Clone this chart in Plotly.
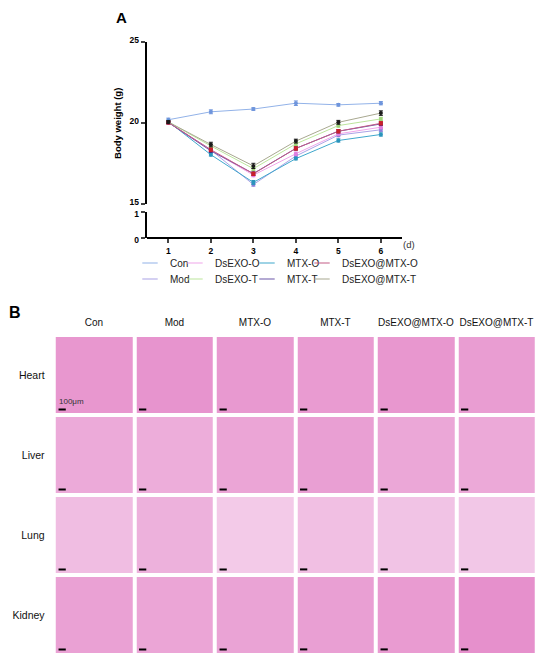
import numpy as np
import plotly.graph_objects as go

# Körpergewicht (g) pro Tag
days = [1, 2, 3, 4, 5, 6]
weight_con = [20.22, 20.71, 20.88, 21.24, 21.14, 21.24]
weight_mod = [20.05, 18.35, 16.22, 17.98, 19.27, 19.60]
weight_dsexo_o = [20.05, 18.33, 16.80, 18.12, 19.35, 19.76]
weight_dsexo_t = [20.08, 18.60, 17.20, 18.73, 19.86, 20.27]
weight_mtx_o = [20.10, 18.06, 16.35, 17.82, 18.94, 19.31]
weight_mtx_t = [20.05, 18.30, 16.90, 18.45, 19.51, 19.96]
weight_ds_mtx_o = [20.05, 18.37, 16.88, 18.45, 19.51, 20.00]
weight_ds_mtx_t = [20.08, 18.69, 17.37, 18.90, 20.06, 20.63]
err_con = [0.10, 0.12, 0.08, 0.14, 0.08, 0.10]
err_mod = [0.08, 0.10, 0.10, 0.10, 0.10, 0.10]
err_dsexo_o = [0.08, 0.10, 0.10, 0.10, 0.10, 0.10]
err_dsexo_t = [0.08, 0.10, 0.12, 0.10, 0.10, 0.10]
err_mtx_o = [0.08, 0.08, 0.12, 0.08, 0.10, 0.10]
err_mtx_t = [0.08, 0.10, 0.10, 0.10, 0.10, 0.10]
err_ds_mtx_o = [0.08, 0.10, 0.10, 0.10, 0.10, 0.10]
err_ds_mtx_t = [0.08, 0.14, 0.16, 0.12, 0.12, 0.14]

# Histologie-Panel: Spalten, Zeilen, Färbeintensität (geschätzt)
hist_cols = ["Con", "Mod", "MTX-O", "MTX-T", "DsEXO@MTX-O", "DsEXO@MTX-T"]
hist_rows = ["Heart", "Liver", "Lung", "Kidney"]
stain_heart = [0.74, 0.76, 0.72, 0.70, 0.74, 0.68]
stain_liver = [0.55, 0.52, 0.60, 0.66, 0.58, 0.56]
stain_lung = [0.36, 0.48, 0.24, 0.34, 0.30, 0.26]
stain_kidney = [0.64, 0.60, 0.62, 0.66, 0.70, 0.80]

FONT = "Arial, Liberation Sans, sans-serif"
# Seite hat 8px Body-Rand -> Figur etwas kleiner, Positionen in Bildpixeln
OFF = 8
W, H = 534, 651

def px_x(p):
    return (p - OFF) / W

def px_y(p):
    return 1 - (p - OFF) / H

fig = go.Figure()

# Name, Werte, Fehler, Linienfarbe, Markerfarbe, Symbol, Legendenposition (Text-x, Text-y in px)
series = [
    ("Con", weight_con, err_con, "#92b2e8", "#6f95dc", "circle", 170, 263),
    ("Mod", weight_mod, err_mod, "#aaa2e6", "#8a7fd8", "circle", 170, 279),
    ("DsEXO-O", weight_dsexo_o, err_dsexo_o, "#f0a6ea", "#e07ee0", "circle", 215, 263),
    ("DsEXO-T", weight_dsexo_t, err_dsexo_t, "#bce59c", "#9ed47a", "circle", 215, 279),
    ("MTX-O", weight_mtx_o, err_mtx_o, "#3fa7cc", "#2a94bc", "circle", 287, 263),
    ("MTX-T", weight_mtx_t, err_mtx_t, "#6a56a8", "#3f2f86", "circle", 287, 279),
    ("DsEXO@MTX-O", weight_ds_mtx_o, err_ds_mtx_o, "#c45c86", "#c8202c", "square", 342, 263),
    ("DsEXO@MTX-T", weight_ds_mtx_t, err_ds_mtx_t, "#a8a890", "#1a1a1a", "circle", 342, 279),
]

legends = {}
for i, (name, vals, err, lc, mc, sym, tx, ty) in enumerate(series):
    lg = "legend" if i == 0 else f"legend{i + 1}"
    fig.add_trace(go.Scatter(
        x=days, y=vals, name=name, mode="lines+markers",
        line=dict(color=lc, width=1),
        marker=dict(color=mc, size=4, symbol=sym),
        error_y=dict(type="data", array=err, color=mc, thickness=1, width=2),
        showlegend=False, xaxis="x", yaxis="y"))
    # Legendeneintrag: kurze Linie als Marker
    fig.add_trace(go.Scatter(
        x=[None], y=[None], name=name, mode="markers",
        marker=dict(symbol="line-ew", size=11, line=dict(color=lc, width=1.2)),
        legend=lg, xaxis="x", yaxis="y"))
    legends[lg] = dict(x=px_x(tx - 40), y=px_y(ty), xanchor="left", yanchor="middle",
                       orientation="v", bgcolor="rgba(0,0,0,0)", borderwidth=0,
                       font=dict(family=FONT, size=10, color="#222"))

# unterer Achsenabschnitt (0-1), nur Achse
fig.add_trace(go.Scatter(x=[days[0]], y=[None], xaxis="x", yaxis="y2",
                         showlegend=False, hoverinfo="skip"))

# Histologie-Kacheln als Heatmap
z = [stain_heart, stain_liver, stain_lung, stain_kidney]
fig.add_trace(go.Heatmap(
    z=z, x=list(range(len(hist_cols))), y=list(range(len(hist_rows))),
    colorscale=[[0, "#f8e2f4"], [1, "#e27cc2"]], zmin=0, zmax=1,
    showscale=False, xgap=4, ygap=4, hoverinfo="skip",
    xaxis="x2", yaxis="y3"))

# Maßstabsbalken unten links in jeder Kachel
sb_x, sb_y = [], []
for r in range(len(hist_rows)):
    for c in range(len(hist_cols)):
        sb_x += [c - 0.5 + 0.06, c - 0.5 + 0.15, None]
        sb_y += [r + 0.5 - 0.07, r + 0.5 - 0.07, None]
fig.add_trace(go.Scatter(x=sb_x, y=sb_y, mode="lines",
                         line=dict(color="black", width=2),
                         showlegend=False, hoverinfo="skip",
                         xaxis="x2", yaxis="y3"))

axis_font = dict(family=FONT, size=8.5, color="black", weight="bold")

fig.update_layout(
    width=W, height=H,
    margin=dict(l=0, r=0, t=0, b=0),
    paper_bgcolor="white", plot_bgcolor="white",
    font=dict(family=FONT, color="black"),
    xaxis=dict(domain=[px_x(146.7), px_x(401.7)], range=[0.49, 6.49],
               anchor="free", position=px_y(238.3), automargin=False,
               tickvals=days, ticks="outside", ticklen=4, tickwidth=1.5,
               showline=True, linewidth=2, linecolor="black",
               showgrid=False, zeroline=False, tickfont=axis_font),
    yaxis=dict(domain=[px_y(204.3), px_y(42.3)], range=[15, 25], automargin=False,
               tickvals=[15, 20, 25], ticks="outside", ticklen=4, tickwidth=1.5,
               ticklabelshift=-2,
               showline=True, linewidth=2, linecolor="black", anchor="x",
               showgrid=False, zeroline=False, tickfont=axis_font,
               title=dict(text="Body weight (g)", standoff=6,
                          font=dict(family=FONT, size=9.5, weight="bold"))),
    yaxis2=dict(domain=[px_y(238.3), px_y(211.7)], range=[0, 1], automargin=False,
                tickvals=[0, 1], ticks="outside", ticklen=4, tickwidth=1.5,
                ticklabelshift=2,
                showline=True, linewidth=2, linecolor="black", anchor="x",
                showgrid=False, zeroline=False, tickfont=axis_font),
    xaxis2=dict(domain=[px_x(53.7), px_x(536.7)], range=[-0.5, 5.5], automargin=False,
                anchor="y3", side="top", tickvals=list(range(len(hist_cols))),
                ticktext=hist_cols, ticks="outside", ticklen=4, tickcolor="white",
                tickangle=0, showline=False, showgrid=False, zeroline=False,
                tickfont=dict(family=FONT, size=10, color="#111")),
    yaxis3=dict(domain=[px_y(655), px_y(335)], range=[3.5, -0.5], automargin=False,
                anchor="x2", tickvals=list(range(len(hist_rows))),
                ticktext=hist_rows, ticks="outside", ticklen=6, tickcolor="white",
                showline=False, showgrid=False, zeroline=False,
                tickfont=dict(family=FONT, size=10.5, color="#111")),
    **legends,
)

annotations = [
    dict(text="<b>A</b>", x=px_x(121), y=px_y(17), font=dict(family=FONT, size=15)),
    dict(text="<b>B</b>", x=px_x(14.5), y=px_y(313), font=dict(family=FONT, size=16)),
    dict(text="(d)", x=px_x(409), y=px_y(244), font=dict(family=FONT, size=9.5, color="#333")),
]
for a in annotations:
    fig.add_annotation(xref="paper", yref="paper", showarrow=False,
                       xanchor="center", yanchor="middle", **a)

fig.add_annotation(text="100μm", x=-0.5 + 0.04, y=0.5 - 0.09, xref="x2", yref="y3",
                   xanchor="left", yanchor="bottom", showarrow=False,
                   font=dict(family=FONT, size=8, color="#333"))

fig.write_html("out.html")
